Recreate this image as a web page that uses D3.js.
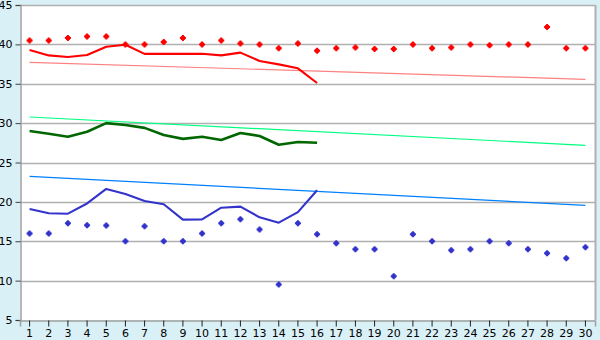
<!DOCTYPE html>
<html><head><meta charset="utf-8">
<script src="https://cdn.jsdelivr.net/npm/d3@7"></script>
<style>html,body{margin:0;padding:0;background:#daf0f7;}svg{display:block;}</style>
</head><body>
<svg id="c" width="600" height="340"></svg>
<script>
const days = d3.range(1, 31);
const yTicks = [5, 10, 15, 20, 25, 30, 35, 40, 45];
const highPoints = [40.5,40.5,40.8,41,41,40,40,40.3,40.8,40,40.5,40.1,40,39.5,40.1,39.2,39.5,39.6,39.4,39.4,40,39.5,39.6,40,39.9,40,40,42.2,39.5,39.5];
const highLine = [39.3,38.6,38.4,38.65,39.7,39.95,38.8,38.8,38.8,38.8,38.6,38.95,37.9,37.46,36.96,35.1];
const midLine = [29.0,28.66,28.28,28.9,30.0,29.76,29.4,28.5,28.0,28.28,27.86,28.75,28.37,27.26,27.6,27.5];
const lowLine = [19.1,18.55,18.5,19.8,21.64,21.0,20.1,19.7,17.75,17.78,19.26,19.4,18.04,17.36,18.7,21.47];
const lowPoints = [16,16,17.3,17.02,17,15,16.9,15,15,16,17.3,17.8,16.5,9.5,17.3,15.9,14.74,14,14,10.55,15.9,15,13.85,14,15,14.74,14,13.47,12.83,14.23];
const highTrend = [37.72, 35.56];
const midTrend = [30.78, 27.18];
const lowTrend = [23.24, 19.56];
const trendDays = [1, 30];

const svg = d3.select("#c");
const L = 20, R = 595, T = 5, B = 320;
const x = d3.scaleBand().domain(days).range([L, R]);
const cx = d => x(d) + x.bandwidth() / 2;
const y = d3.scaleLinear().domain([5, 45]).range([B, T]);

svg.append("rect").attr("x", L).attr("y", T).attr("width", R - L).attr("height", B - T).attr("fill", "#fff");

// grid
svg.append("g").selectAll("line").data(yTicks.filter(v => v > 5)).join("line")
  .attr("x1", L).attr("x2", R).attr("y1", d => Math.round(y(d)) + 0.5).attr("y2", d => Math.round(y(d)) + 0.5)
  .attr("stroke", "#b0b0b0").attr("stroke-width", 1.5);
// right border
svg.append("line").attr("x1", R + 0.5).attr("x2", R + 0.5).attr("y1", T).attr("y2", B)
  .attr("stroke", "#b0b0b0").attr("stroke-width", 2);

// axes
const yAxis = svg.append("g").attr("transform", `translate(${L + 0.5},0)`)
  .call(d3.axisLeft(y).tickValues(yTicks).tickSize(5).tickPadding(3));
const xAxis = svg.append("g").attr("transform", `translate(0,${B + 0.5})`)
  .call(d3.axisBottom(x).tickSize(6).tickPadding(3));
[yAxis, xAxis].forEach(a => {
  a.select(".domain").attr("stroke", "#a0a0a0").attr("stroke-width", 1.5);
  a.selectAll(".tick line").attr("stroke", "#404040");
  a.selectAll("text").attr("font-family", "DejaVu Sans, Verdana, sans-serif").attr("font-size", 11).attr("fill", "#000");
});
xAxis.selectAll(".tick line").attr("stroke", "#202020");

// trend lines
const tline = d3.line().x((d, i) => cx(trendDays[i])).y(d => y(d));
[[highTrend, "#ff8080"], [midTrend, "#00ff80"], [lowTrend, "#0080ff"]].forEach(([data, col]) => {
  svg.append("path").attr("d", tline(data)).attr("fill", "none").attr("stroke", col).attr("stroke-width", 1.2);
});

// series lines
const sline = d3.line().x((d, i) => cx(days[i])).y(d => y(d));
[[highLine, "#ff0000", 2.1], [midLine, "#006600", 2.6], [lowLine, "#3333cc", 2.1]].forEach(([data, col, w]) => {
  svg.append("path").attr("d", sline(data)).attr("fill", "none").attr("stroke", col).attr("stroke-width", w).attr("stroke-linejoin", "round");
});

// markers
const mk = "M-1,-3h2v1h1v1h1v2h-1v1h-1v1h-2v-1h-1v-1h-1v-2h1v-1h1z";
[[highPoints, "#ff0000"], [lowPoints, "#3333cc"]].forEach(([data, col]) => {
  svg.append("g").selectAll("path").data(data).join("path")
    .attr("d", mk).attr("fill", col)
    .attr("transform", (d, i) => `translate(${cx(days[i])},${y(d)})`);
});
</script>
</body></html>
